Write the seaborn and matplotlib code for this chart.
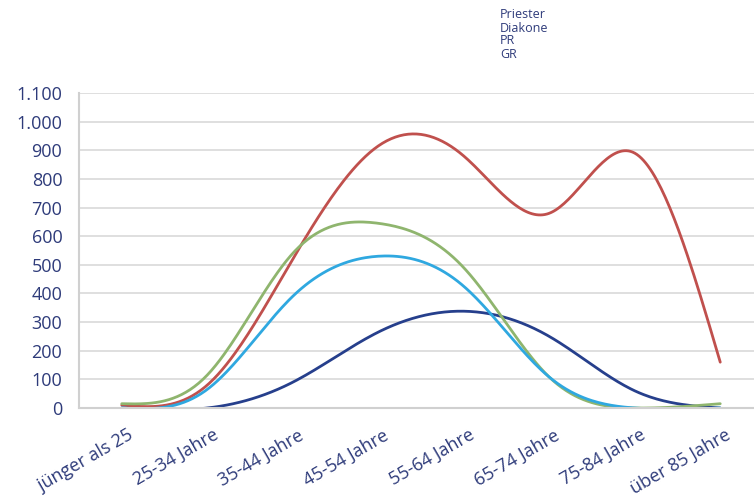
import numpy as np
import pandas as pd
import matplotlib
matplotlib.use("Agg")
import matplotlib.pyplot as plt
import matplotlib.transforms as mtransforms
from matplotlib.ticker import FuncFormatter, FixedLocator
import seaborn as sns

# Data
age_groups = ["jünger als 25", "25-34 Jahre", "35-44 Jahre", "45-54 Jahre",
              "55-64 Jahre", "65-74 Jahre", "75-84 Jahre", "über 85 Jahre"]
priester = [10, 80, 520, 915, 880, 680, 890, 160]
diakone = [0, 0, 90, 265, 338, 250, 60, 0]
gr = [15, 115, 540, 645, 490, 108, 0, 15]
pr = [0, 65, 390, 530, 425, 108, 0, 0]
legend_labels = ["Priester", "Diakone", "PR", "GR"]
y_ticks = list(range(0, 1101, 100))

colors = {"Priester": "#C0504D", "Diakone": "#263F8C", "GR": "#8FB56E", "PR": "#2FA8E0"}
text_col = "#2E3B7A"


def smooth(values, steps=40):
    # natural cubic spline through the category points (smoothed line look)
    y = np.asarray(values, dtype=float)
    n = len(y)
    A = np.zeros((n, n))
    b = np.zeros(n)
    A[0, 0] = A[-1, -1] = 1
    for i in range(1, n - 1):
        A[i, i - 1], A[i, i], A[i, i + 1] = 1, 4, 1
        b[i] = 6 * (y[i + 1] - 2 * y[i] + y[i - 1])
    M = np.linalg.solve(A, b)
    xs, ys = [], []
    for i in range(n - 1):
        t = np.linspace(0, 1, steps, endpoint=(i == n - 2))
        seg = ((1 - t) * y[i] + t * y[i + 1]
               + ((1 - t) ** 3 - (1 - t)) * M[i] / 6
               + (t ** 3 - t) * M[i + 1] / 6)
        xs.append(i + t)
        ys.append(seg)
    return np.concatenate(xs), np.concatenate(ys)


series = {"Priester": priester, "Diakone": diakone, "GR": gr, "PR": pr}
frames = []
for name, vals in series.items():
    sx, sy = smooth(vals)
    frames.append(pd.DataFrame({"x": sx, "y": sy, "series": name}))
df = pd.concat(frames, ignore_index=True)

sns.set_style("white")
plt.rcParams['font.family'] = ['Open Sans', 'DejaVu Sans']

fig = plt.figure(figsize=(7.54, 5.04), dpi=100, facecolor="white")
ax = fig.add_axes([79 / 754, 96 / 504, 684 / 754, 315 / 504])

sns.lineplot(data=df, x="x", y="y", hue="series", hue_order=list(series.keys()),
             palette=colors, sort=False, estimator=None, linewidth=2.0,
             legend=False, ax=ax)

ax.set_xlim(-0.5, len(age_groups) - 0.5)
ax.set_ylim(0, 1100)
ax.set_xlabel("")
ax.set_ylabel("")

# grid + axes styling
ax.yaxis.set_major_locator(FixedLocator(y_ticks))
ax.yaxis.set_major_formatter(FuncFormatter(lambda v, p: f"{int(v):,}".replace(",", ".")))
ax.grid(axis="y", color="#DCDCDC", linewidth=1.3)
ax.grid(axis="x", visible=False)
for s in ["top", "right"]:
    ax.spines[s].set_visible(False)
for s in ["left", "bottom"]:
    ax.spines[s].set_color("#D0D0D0")
    ax.spines[s].set_linewidth(1.5)

ax.tick_params(axis="y", length=0, pad=12, labelsize=13, labelcolor=text_col)
ax.set_xticks(range(len(age_groups)))
ax.set_xticklabels(age_groups, rotation=30, ha="right", va="top",
                   rotation_mode="anchor", fontsize=13, color=text_col)
ax.tick_params(axis="x", length=0, pad=13)
ax.set_xticks(np.arange(-0.5, len(age_groups), 1), minor=True)
ax.tick_params(axis="x", which="minor", length=4, color="#C8C8C8", width=1)
offset = mtransforms.ScaledTranslation(5 / 100, 0, fig.dpi_scale_trans)
for lbl in ax.get_xticklabels():
    lbl.set_transform(lbl.get_transform() + offset)

# legend (text only)
for i, name in enumerate(legend_labels):
    fig.text(500 / 754, 1 - (15 + i * 13) / 504, name, fontsize=9,
             color=text_col, ha="left", va="center")

fig.savefig("out.png", dpi=100, facecolor="white")
